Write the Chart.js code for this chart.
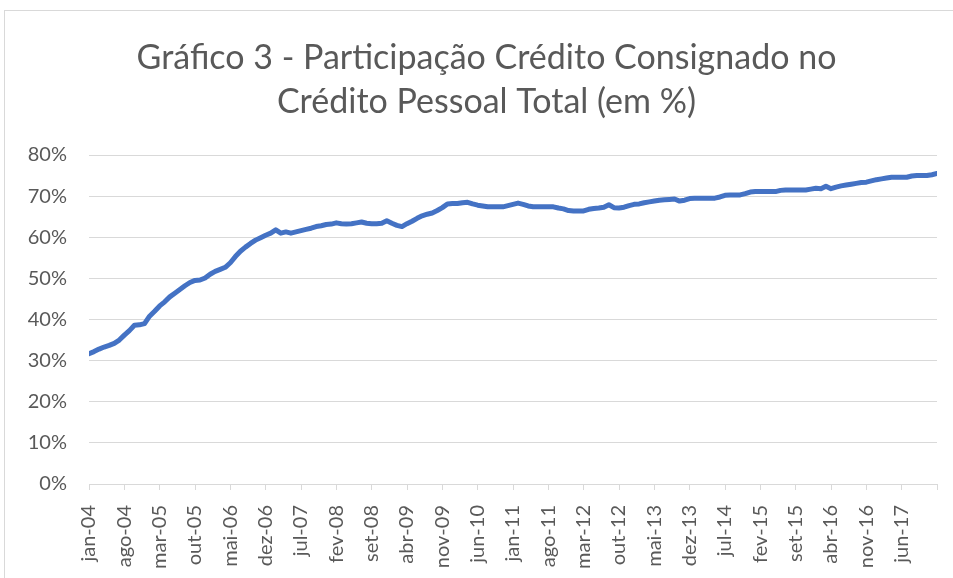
<!DOCTYPE html>
<html>
<head>
<meta charset="utf-8">
<script src="https://cdn.jsdelivr.net/npm/chart.js@4/dist/chart.umd.min.js"></script>
<style>
  html, body { margin: 0; padding: 0; background: #fff; overflow: hidden; }
  #wrap { position: relative; width: 953px; height: 578px; }
  #frame { position: absolute; left: 4px; top: 10px; width: 1000px; height: 1000px; border: 1px solid #d9d9d9; pointer-events: none; }
  canvas { position: absolute; left: 0; top: 0; }
</style>
</head>
<body>
<div id="wrap">
  <canvas id="c" width="953" height="578"></canvas>
  <div id="frame"></div>
</div>
<script>
// Month names (pt-BR abbreviations) and years covered by the series
const MONTH_NAMES = ['jan','fev','mar','abr','mai','jun','jul','ago','set','out','nov','dez'];
const START_YEAR = 2004;

// Tick labels shown on the horizontal axis
const TICK_LABELS = ['jan-04','ago-04','mar-05','out-05','mai-06','dez-06','jul-07','fev-08','set-08','abr-09','nov-09','jun-10','jan-11','ago-11','mar-12','out-12','mai-13','dez-13','jul-14','fev-15','set-15','abr-16','nov-16','jun-17'];

// Share of payroll-deducted credit in total personal credit (%), monthly from jan-04
const SHARE_2004 = [31.7,32.2,32.8,33.3,33.7,34.2,35.0,36.2,37.3,38.6,38.7,39.0];
const SHARE_2005 = [40.8,42.0,43.3,44.3,45.5,46.4,47.3,48.2,49.0,49.5,49.6,50.1];
const SHARE_2006 = [51.0,51.7,52.2,52.7,53.8,55.3,56.6,57.6,58.5,59.3,59.9,60.5];
const SHARE_2007 = [61.0,61.8,61.0,61.3,61.0,61.3,61.6,61.9,62.2,62.6,62.8,63.1];
const SHARE_2008 = [63.2,63.5,63.3,63.2,63.3,63.5,63.7,63.4,63.3,63.3,63.4,64.0];
const SHARE_2009 = [63.4,62.9,62.6,63.3,63.9,64.6,65.2,65.6,65.9,66.5,67.2,68.1];
const SHARE_2010 = [68.2,68.2,68.4,68.5,68.1,67.8,67.6,67.4,67.4,67.4,67.4,67.7];
const SHARE_2011 = [68.0,68.3,68.0,67.6,67.4,67.4,67.4,67.4,67.4,67.1,66.9,66.5];
const SHARE_2012 = [66.4,66.4,66.4,66.8,67.0,67.1,67.3,67.9,67.2,67.1,67.3,67.7];
const SHARE_2013 = [68.0,68.1,68.4,68.6,68.8,69.0,69.1,69.2,69.3,68.8,69.0,69.4];
const SHARE_2014 = [69.5,69.5,69.5,69.5,69.5,69.8,70.2,70.3,70.3,70.3,70.6,71.0];
const SHARE_2015 = [71.1,71.1,71.1,71.1,71.1,71.4,71.5,71.5,71.5,71.5,71.5,71.7];
const SHARE_2016 = [71.9,71.8,72.4,71.8,72.2,72.5,72.7,72.9,73.1,73.3,73.4,73.7];
const SHARE_2017 = [74.0,74.2,74.4,74.6,74.6,74.6,74.6,74.9,75.0,75.0,75.0,75.2];
const SHARE_2018 = [75.5];

const SHARE = [].concat(SHARE_2004, SHARE_2005, SHARE_2006, SHARE_2007, SHARE_2008, SHARE_2009,
  SHARE_2010, SHARE_2011, SHARE_2012, SHARE_2013, SHARE_2014, SHARE_2015, SHARE_2016, SHARE_2017, SHARE_2018);

const MONTHS = SHARE.map((_, i) => MONTH_NAMES[i % 12] + '-' + String((START_YEAR + Math.floor(i / 12)) % 100).padStart(2, '0'));
const POINTS = SHARE.map((v, i) => ({ x: i, y: v }));

const FONT = "Lato, 'Open Sans', sans-serif";
const TEXT = '#595959';
const GRID = '#d9d9d9';

// Center the title over the whole chart frame (Excel-style), not just the padded box
const titleShift = {
  id: 'titleShift',
  afterLayout(chart) { if (chart.titleBlock) chart.titleBlock.left = 36; }
};

new Chart(document.getElementById('c'), {
  type: 'line',
  plugins: [titleShift],
  data: {
    datasets: [{
      data: POINTS,
      borderColor: '#4472C4',
      borderWidth: 5,
      pointRadius: 0,
      tension: 0,
      borderCapStyle: 'round',
      borderJoinStyle: 'round',
      fill: false
    }]
  },
  options: {
    responsive: false,
    animation: false,
    devicePixelRatio: 1,
    layout: { padding: { left: 0, right: 16, top: 0, bottom: 0 } },
    plugins: {
      legend: { display: false },
      tooltip: { enabled: false },
      title: {
        display: true,
        text: ['Gráfico 3 - Participação Crédito Consignado no', 'Crédito Pessoal Total (em %)'],
        color: TEXT,
        font: { family: FONT, size: 34, weight: 'normal', lineHeight: 44 / 34 },
        padding: { top: 36, bottom: 31 }
      }
    },
    scales: {
      x: {
        type: 'linear',
        min: 0,
        max: SHARE.length - 1,
        afterFit: s => { s.height = 94; s.paddingLeft = 0; s.paddingRight = 0; },
        grid: { display: true, drawOnChartArea: false, drawTicks: true, tickLength: 6, color: GRID, lineWidth: 1 },
        border: { display: true, color: GRID, width: 1 },
        ticks: {
          stepSize: 7,
          autoSkip: false,
          maxRotation: 90,
          minRotation: 90,
          padding: 15,
          color: TEXT,
          font: { family: FONT, size: 20 },
          callback: v => { const m = MONTHS[v]; return TICK_LABELS.includes(m) ? m : ''; }
        }
      },
      y: {
        min: 0,
        max: 80,
        afterFit: s => { s.width = 89; },
        grid: { color: GRID, lineWidth: 1, drawTicks: false },
        border: { display: false },
        ticks: {
          stepSize: 10,
          padding: 22,
          color: TEXT,
          font: { family: FONT, size: 20 },
          callback: v => v + '%'
        }
      }
    }
  }
});
</script>
</body>
</html>
